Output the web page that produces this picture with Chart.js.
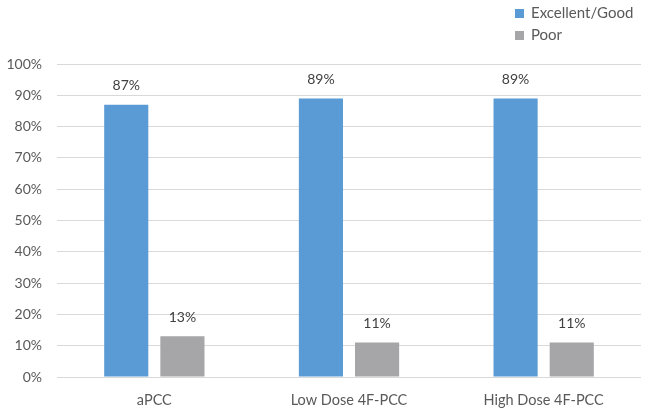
<!DOCTYPE html>
<html>
<head>
<meta charset="utf-8">
<script src="https://cdn.jsdelivr.net/npm/chart.js@4"></script>
<style>
  html, body { margin: 0; padding: 0; background: #fff; }
  #wrap { position: relative; width: 645px; height: 411px; }
  #legend { position: absolute; left: 515px; top: 3px; font-family: Lato, sans-serif; font-size: 15px; color: #595959; }
  #legend div { height: 22px; line-height: 18px; }
  #legend span.box { display: inline-block; width: 9px; height: 9px; margin-right: 7px; vertical-align: 0px; }
</style>
</head>
<body>
<div id="wrap">
  <canvas id="chart" width="645" height="411"></canvas>
  <div id="legend"></div>
</div>
<script>
const categories = ['aPCC', 'Low Dose 4F-PCC', 'High Dose 4F-PCC'];
const seriesNames = ['Excellent/Good', 'Poor'];
const excellentGood = [87, 89, 89];
const poor = [13, 11, 11];
const yTicks = [0, 10, 20, 30, 40, 50, 60, 70, 80, 90, 100];
const colors = ['#5B9BD5', '#A6A5A8'];

// --- legend (stacked, top right) ---
const legendEl = document.getElementById('legend');
seriesNames.forEach((name, i) => {
  const row = document.createElement('div');
  row.innerHTML = '<span class="box" style="background:' + colors[i] + '"></span>' + name;
  legendEl.appendChild(row);
});

// value labels above bars
const barLabels = {
  id: 'barLabels',
  afterDatasetsDraw(chart) {
    const ctx = chart.ctx;
    ctx.save();
    ctx.font = '14px Lato, sans-serif';
    ctx.fillStyle = '#404040';
    ctx.textAlign = 'center';
    ctx.textBaseline = 'middle';
    chart.data.datasets.forEach((ds, i) => {
      chart.getDatasetMeta(i).data.forEach((bar, j) => {
        ctx.fillText(ds.data[j] + '%', bar.x, bar.y - 19);
      });
    });
    ctx.restore();
  }
};

new Chart(document.getElementById('chart'), {
  type: 'bar',
  data: {
    labels: categories,
    datasets: [
      { label: seriesNames[0], data: excellentGood, backgroundColor: colors[0] },
      { label: seriesNames[1], data: poor, backgroundColor: colors[1] }
    ]
  },
  options: {
    responsive: false,
    animation: false,
    layout: { padding: { top: 64, right: 4, left: 0, bottom: 0 } },
    datasets: { bar: { categoryPercentage: 0.577, barPercentage: 0.786 } },
    plugins: { legend: { display: false }, tooltip: { enabled: false } },
    scales: {
      x: {
        grid: { display: false },
        border: { display: false },
        ticks: { color: '#595959', font: { family: 'Lato', size: 14.5 }, padding: 7 },
        afterFit: (scale) => { scale.height = 34; }
      },
      y: {
        min: 0,
        max: 100,
        afterBuildTicks: (scale) => { scale.ticks = yTicks.map(v => ({ value: v })); },
        grid: { color: '#D9D9D9', drawTicks: false },
        border: { display: false },
        ticks: {
          color: '#595959',
          font: { family: 'Lato', size: 14 },
          padding: 15,
          callback: (v) => v + '%'
        },
        afterFit: (scale) => { scale.width = 57; }
      }
    }
  },
  plugins: [barLabels]
});
</script>
</body>
</html>
